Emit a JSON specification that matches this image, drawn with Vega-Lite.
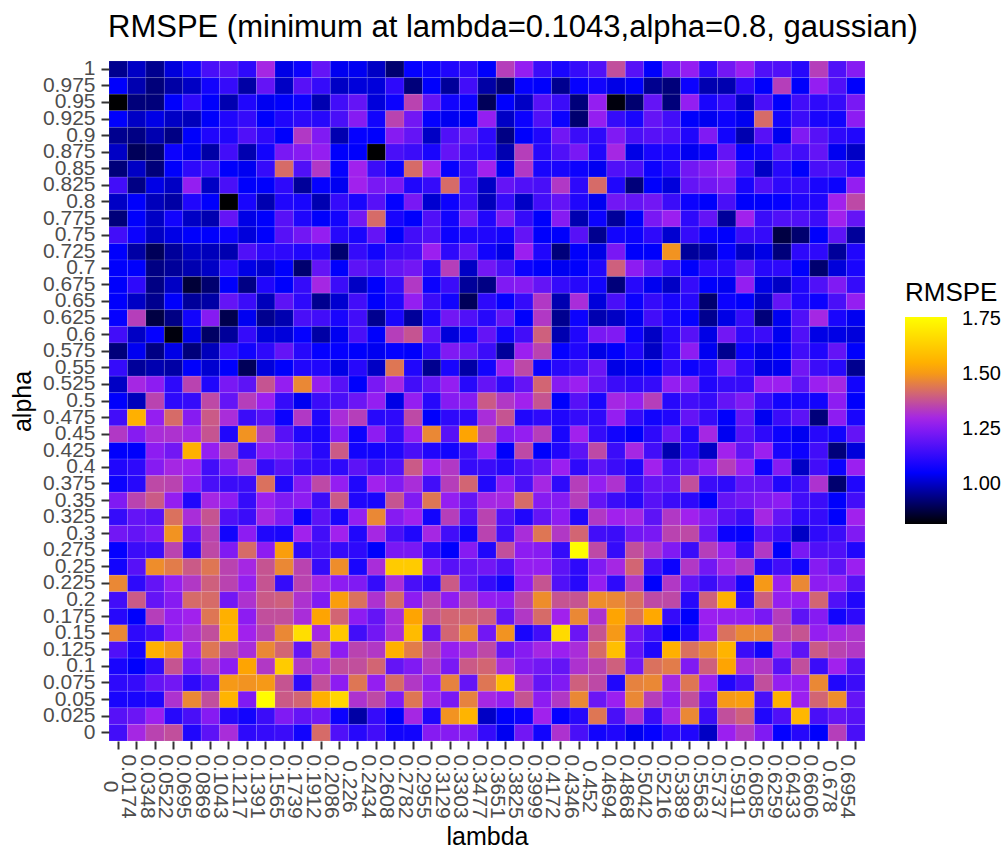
{"$schema":"https://vega.github.io/schema/vega-lite/v6.json","width":756,"height":680,"autosize":"none","padding":{"left":109,"top":61,"right":139,"bottom":104},"background":"white","title":{"text":"RMSPE (minimum at lambda=0.1043,alpha=0.8, gaussian)","anchor":"start","frame":"group","dx":-1,"fontSize":31,"fontWeight":"normal","font":"Liberation Sans","color":"black","offset":14},"config":{"view":{"stroke":null},"font":"Liberation Sans"},"data":{"values":[
{"l":0,"a":1,"r":0.95},{"l":0.0174,"a":1,"r":1.0},{"l":0.0348,"a":1,"r":0.95},{"l":0.0522,"a":1,"r":1.02},{"l":0.0695,"a":1,"r":1.08},{"l":0.0869,"a":1,"r":1.16},{"l":0.1043,"a":1,"r":1.18},{"l":0.1217,"a":1,"r":1.12},{"l":0.1391,"a":1,"r":1.3},{"l":0.1565,"a":1,"r":1.03},{"l":0.1739,"a":1,"r":1.07},{"l":0.1912,"a":1,"r":1.2},{"l":0.2086,"a":1,"r":1.04},{"l":0.226,"a":1,"r":1.04},{"l":0.2434,"a":1,"r":1.0},{"l":0.2608,"a":1,"r":0.92},{"l":0.2782,"a":1,"r":1.06},{"l":0.2955,"a":1,"r":1.07},{"l":0.3129,"a":1,"r":1.1},{"l":0.3303,"a":1,"r":1.12},{"l":0.3477,"a":1,"r":1.05},{"l":0.3651,"a":1,"r":1.34},{"l":0.3825,"a":1,"r":1.27},{"l":0.3999,"a":1,"r":1.14},{"l":0.4172,"a":1,"r":1.09},{"l":0.4346,"a":1,"r":1.13},{"l":0.452,"a":1,"r":1.17},{"l":0.4694,"a":1,"r":1.37},{"l":0.4868,"a":1,"r":1.18},{"l":0.5042,"a":1,"r":1.05},{"l":0.5216,"a":1,"r":1.22},{"l":0.5389,"a":1,"r":1.27},{"l":0.5563,"a":1,"r":1.12},{"l":0.5737,"a":1,"r":1.22},{"l":0.5911,"a":1,"r":1.28},{"l":0.6085,"a":1,"r":1.17},{"l":0.6259,"a":1,"r":1.17},{"l":0.6433,"a":1,"r":1.11},{"l":0.6606,"a":1,"r":1.34},{"l":0.678,"a":1,"r":1.17},{"l":0.6954,"a":1,"r":1.25},
{"l":0,"a":0.975,"r":1.05},{"l":0.0174,"a":0.975,"r":0.98},{"l":0.0348,"a":0.975,"r":0.93},{"l":0.0522,"a":0.975,"r":0.97},{"l":0.0695,"a":0.975,"r":1.0},{"l":0.0869,"a":0.975,"r":1.08},{"l":0.1043,"a":0.975,"r":1.13},{"l":0.1217,"a":0.975,"r":0.97},{"l":0.1391,"a":0.975,"r":1.2},{"l":0.1565,"a":0.975,"r":1.0},{"l":0.1739,"a":0.975,"r":1.18},{"l":0.1912,"a":0.975,"r":1.13},{"l":0.2086,"a":0.975,"r":1.0},{"l":0.226,"a":0.975,"r":1.02},{"l":0.2434,"a":0.975,"r":1.02},{"l":0.2608,"a":0.975,"r":1.12},{"l":0.2782,"a":0.975,"r":0.93},{"l":0.2955,"a":0.975,"r":1.05},{"l":0.3129,"a":0.975,"r":0.96},{"l":0.3303,"a":0.975,"r":1.15},{"l":0.3477,"a":0.975,"r":0.97},{"l":0.3651,"a":0.975,"r":0.92},{"l":0.3825,"a":0.975,"r":1.06},{"l":0.3999,"a":0.975,"r":1.05},{"l":0.4172,"a":0.975,"r":0.95},{"l":0.4346,"a":0.975,"r":1.06},{"l":0.452,"a":0.975,"r":1.08},{"l":0.4694,"a":0.975,"r":1.03},{"l":0.4868,"a":0.975,"r":1.05},{"l":0.5042,"a":0.975,"r":0.95},{"l":0.5216,"a":0.975,"r":0.93},{"l":0.5389,"a":0.975,"r":1.07},{"l":0.5563,"a":0.975,"r":0.98},{"l":0.5737,"a":0.975,"r":0.98},{"l":0.5911,"a":0.975,"r":1.12},{"l":0.6085,"a":0.975,"r":1.05},{"l":0.6259,"a":0.975,"r":1.34},{"l":0.6433,"a":0.975,"r":1.05},{"l":0.6606,"a":0.975,"r":1.27},{"l":0.678,"a":0.975,"r":1.17},{"l":0.6954,"a":0.975,"r":1.05},
{"l":0,"a":0.95,"r":0.82},{"l":0.0174,"a":0.95,"r":0.93},{"l":0.0348,"a":0.95,"r":0.93},{"l":0.0522,"a":0.95,"r":1.05},{"l":0.0695,"a":0.95,"r":1.12},{"l":0.0869,"a":0.95,"r":1.05},{"l":0.1043,"a":0.95,"r":0.98},{"l":0.1217,"a":0.95,"r":1.1},{"l":0.1391,"a":0.95,"r":1.04},{"l":0.1565,"a":0.95,"r":1.05},{"l":0.1739,"a":0.95,"r":1.07},{"l":0.1912,"a":0.95,"r":0.98},{"l":0.2086,"a":0.95,"r":1.15},{"l":0.226,"a":0.95,"r":1.2},{"l":0.2434,"a":0.95,"r":1.02},{"l":0.2608,"a":0.95,"r":1.07},{"l":0.2782,"a":0.95,"r":1.35},{"l":0.2955,"a":0.95,"r":1.2},{"l":0.3129,"a":0.95,"r":1.08},{"l":0.3303,"a":0.95,"r":1.07},{"l":0.3477,"a":0.95,"r":0.9},{"l":0.3651,"a":0.95,"r":1.05},{"l":0.3825,"a":0.95,"r":1.0},{"l":0.3999,"a":0.95,"r":1.18},{"l":0.4172,"a":0.95,"r":1.14},{"l":0.4346,"a":0.95,"r":0.93},{"l":0.452,"a":0.95,"r":1.27},{"l":0.4694,"a":0.95,"r":0.83},{"l":0.4868,"a":0.95,"r":0.92},{"l":0.5042,"a":0.95,"r":1.2},{"l":0.5216,"a":0.95,"r":0.93},{"l":0.5389,"a":0.95,"r":1.27},{"l":0.5563,"a":0.95,"r":1.09},{"l":0.5737,"a":0.95,"r":1.13},{"l":0.5911,"a":0.95,"r":1.0},{"l":0.6085,"a":0.95,"r":1.16},{"l":0.6259,"a":0.95,"r":1.05},{"l":0.6433,"a":0.95,"r":1.15},{"l":0.6606,"a":0.95,"r":1.12},{"l":0.678,"a":0.95,"r":1.13},{"l":0.6954,"a":0.95,"r":1.23},
{"l":0,"a":0.925,"r":1.05},{"l":0.0174,"a":0.925,"r":1.0},{"l":0.0348,"a":0.925,"r":1.03},{"l":0.0522,"a":0.925,"r":1.0},{"l":0.0695,"a":0.925,"r":0.99},{"l":0.0869,"a":0.925,"r":1.05},{"l":0.1043,"a":0.925,"r":1.1},{"l":0.1217,"a":0.925,"r":1.13},{"l":0.1391,"a":0.925,"r":1.05},{"l":0.1565,"a":0.925,"r":1.1},{"l":0.1739,"a":0.925,"r":1.12},{"l":0.1912,"a":0.925,"r":1.11},{"l":0.2086,"a":0.925,"r":1.16},{"l":0.226,"a":0.925,"r":1.25},{"l":0.2434,"a":0.925,"r":1.08},{"l":0.2608,"a":0.925,"r":1.35},{"l":0.2782,"a":0.925,"r":1.22},{"l":0.2955,"a":0.925,"r":1.06},{"l":0.3129,"a":0.925,"r":1.04},{"l":0.3303,"a":0.925,"r":1.05},{"l":0.3477,"a":0.925,"r":1.27},{"l":0.3651,"a":0.925,"r":1.0},{"l":0.3825,"a":0.925,"r":1.07},{"l":0.3999,"a":0.925,"r":1.17},{"l":0.4172,"a":0.925,"r":1.07},{"l":0.4346,"a":0.925,"r":0.92},{"l":0.452,"a":0.925,"r":1.27},{"l":0.4694,"a":0.925,"r":1.13},{"l":0.4868,"a":0.925,"r":1.09},{"l":0.5042,"a":0.925,"r":1.2},{"l":0.5216,"a":0.925,"r":1.15},{"l":0.5389,"a":0.925,"r":1.05},{"l":0.5563,"a":0.925,"r":1.04},{"l":0.5737,"a":0.925,"r":1.07},{"l":0.5911,"a":0.925,"r":1.04},{"l":0.6085,"a":0.925,"r":1.42},{"l":0.6259,"a":0.925,"r":1.08},{"l":0.6433,"a":0.925,"r":1.14},{"l":0.6606,"a":0.925,"r":1.09},{"l":0.678,"a":0.925,"r":1.08},{"l":0.6954,"a":0.925,"r":1.26},
{"l":0,"a":0.9,"r":0.95},{"l":0.0174,"a":0.9,"r":0.94},{"l":0.0348,"a":0.9,"r":0.98},{"l":0.0522,"a":0.9,"r":0.94},{"l":0.0695,"a":0.9,"r":1.05},{"l":0.0869,"a":0.9,"r":1.1},{"l":0.1043,"a":0.9,"r":1.1},{"l":0.1217,"a":0.9,"r":1.17},{"l":0.1391,"a":0.9,"r":1.12},{"l":0.1565,"a":0.9,"r":1.05},{"l":0.1739,"a":0.9,"r":1.33},{"l":0.1912,"a":0.9,"r":1.24},{"l":0.2086,"a":0.9,"r":0.98},{"l":0.226,"a":0.9,"r":1.06},{"l":0.2434,"a":0.9,"r":1.05},{"l":0.2608,"a":0.9,"r":1.25},{"l":0.2782,"a":0.9,"r":1.2},{"l":0.2955,"a":0.9,"r":1.0},{"l":0.3129,"a":0.9,"r":1.17},{"l":0.3303,"a":0.9,"r":1.2},{"l":0.3477,"a":0.9,"r":1.12},{"l":0.3651,"a":0.9,"r":0.94},{"l":0.3825,"a":0.9,"r":1.05},{"l":0.3999,"a":0.9,"r":1.1},{"l":0.4172,"a":0.9,"r":1.22},{"l":0.4346,"a":0.9,"r":1.14},{"l":0.452,"a":0.9,"r":1.12},{"l":0.4694,"a":0.9,"r":1.24},{"l":0.4868,"a":0.9,"r":1.16},{"l":0.5042,"a":0.9,"r":1.18},{"l":0.5216,"a":0.9,"r":1.17},{"l":0.5389,"a":0.9,"r":1.1},{"l":0.5563,"a":0.9,"r":1.24},{"l":0.5737,"a":0.9,"r":1.08},{"l":0.5911,"a":0.9,"r":0.98},{"l":0.6085,"a":0.9,"r":1.18},{"l":0.6259,"a":0.9,"r":1.04},{"l":0.6433,"a":0.9,"r":1.24},{"l":0.6606,"a":0.9,"r":1.18},{"l":0.678,"a":0.9,"r":1.12},{"l":0.6954,"a":0.9,"r":1.1},
{"l":0,"a":0.875,"r":1.0},{"l":0.0174,"a":0.875,"r":0.9},{"l":0.0348,"a":0.875,"r":0.92},{"l":0.0522,"a":0.875,"r":1.07},{"l":0.0695,"a":0.875,"r":1.04},{"l":0.0869,"a":0.875,"r":0.97},{"l":0.1043,"a":0.875,"r":1.15},{"l":0.1217,"a":0.875,"r":0.98},{"l":0.1391,"a":0.875,"r":1.08},{"l":0.1565,"a":0.875,"r":1.23},{"l":0.1739,"a":0.875,"r":1.25},{"l":0.1912,"a":0.875,"r":1.27},{"l":0.2086,"a":0.875,"r":1.05},{"l":0.226,"a":0.875,"r":1.05},{"l":0.2434,"a":0.875,"r":0.82},{"l":0.2608,"a":0.875,"r":1.16},{"l":0.2782,"a":0.875,"r":1.14},{"l":0.2955,"a":0.875,"r":1.09},{"l":0.3129,"a":0.875,"r":1.2},{"l":0.3303,"a":0.875,"r":1.15},{"l":0.3477,"a":0.875,"r":1.12},{"l":0.3651,"a":0.875,"r":0.98},{"l":0.3825,"a":0.875,"r":1.34},{"l":0.3999,"a":0.875,"r":1.11},{"l":0.4172,"a":0.875,"r":1.17},{"l":0.4346,"a":0.875,"r":1.23},{"l":0.452,"a":0.875,"r":1.1},{"l":0.4694,"a":0.875,"r":1.3},{"l":0.4868,"a":0.875,"r":1.03},{"l":0.5042,"a":0.875,"r":1.09},{"l":0.5216,"a":0.875,"r":1.09},{"l":0.5389,"a":0.875,"r":1.04},{"l":0.5563,"a":0.875,"r":1.07},{"l":0.5737,"a":0.875,"r":1.2},{"l":0.5911,"a":0.875,"r":1.06},{"l":0.6085,"a":0.875,"r":1.08},{"l":0.6259,"a":0.875,"r":1.17},{"l":0.6433,"a":0.875,"r":1.15},{"l":0.6606,"a":0.875,"r":1.2},{"l":0.678,"a":0.875,"r":1.04},{"l":0.6954,"a":0.875,"r":1.0},
{"l":0,"a":0.85,"r":0.93},{"l":0.0174,"a":0.85,"r":1.0},{"l":0.0348,"a":0.85,"r":0.93},{"l":0.0522,"a":0.85,"r":1.05},{"l":0.0695,"a":0.85,"r":1.12},{"l":0.0869,"a":0.85,"r":1.14},{"l":0.1043,"a":0.85,"r":1.05},{"l":0.1217,"a":0.85,"r":1.04},{"l":0.1391,"a":0.85,"r":1.13},{"l":0.1565,"a":0.85,"r":1.42},{"l":0.1739,"a":0.85,"r":1.17},{"l":0.1912,"a":0.85,"r":1.33},{"l":0.2086,"a":0.85,"r":1.06},{"l":0.226,"a":0.85,"r":1.29},{"l":0.2434,"a":0.85,"r":1.14},{"l":0.2608,"a":0.85,"r":1.07},{"l":0.2782,"a":0.85,"r":1.42},{"l":0.2955,"a":0.85,"r":1.29},{"l":0.3129,"a":0.85,"r":1.06},{"l":0.3303,"a":0.85,"r":1.15},{"l":0.3477,"a":0.85,"r":1.29},{"l":0.3651,"a":0.85,"r":1.04},{"l":0.3825,"a":0.85,"r":1.33},{"l":0.3999,"a":0.85,"r":1.09},{"l":0.4172,"a":0.85,"r":1.09},{"l":0.4346,"a":0.85,"r":1.07},{"l":0.452,"a":0.85,"r":1.04},{"l":0.4694,"a":0.85,"r":1.17},{"l":0.4868,"a":0.85,"r":1.16},{"l":0.5042,"a":0.85,"r":1.07},{"l":0.5216,"a":0.85,"r":1.11},{"l":0.5389,"a":0.85,"r":1.22},{"l":0.5563,"a":0.85,"r":1.25},{"l":0.5737,"a":0.85,"r":1.28},{"l":0.5911,"a":0.85,"r":1.15},{"l":0.6085,"a":0.85,"r":1.0},{"l":0.6259,"a":0.85,"r":1.11},{"l":0.6433,"a":0.85,"r":1.05},{"l":0.6606,"a":0.85,"r":1.16},{"l":0.678,"a":0.85,"r":1.16},{"l":0.6954,"a":0.85,"r":1.1},
{"l":0,"a":0.825,"r":1.15},{"l":0.0174,"a":0.825,"r":0.94},{"l":0.0348,"a":0.825,"r":1.03},{"l":0.0522,"a":0.825,"r":1.0},{"l":0.0695,"a":0.825,"r":1.27},{"l":0.0869,"a":0.825,"r":1.0},{"l":0.1043,"a":0.825,"r":1.16},{"l":0.1217,"a":0.825,"r":1.05},{"l":0.1391,"a":0.825,"r":1.05},{"l":0.1565,"a":0.825,"r":1.12},{"l":0.1739,"a":0.825,"r":0.96},{"l":0.1912,"a":0.825,"r":1.06},{"l":0.2086,"a":0.825,"r":1.04},{"l":0.226,"a":0.825,"r":1.29},{"l":0.2434,"a":0.825,"r":1.23},{"l":0.2608,"a":0.825,"r":1.23},{"l":0.2782,"a":0.825,"r":1.1},{"l":0.2955,"a":0.825,"r":1.13},{"l":0.3129,"a":0.825,"r":1.42},{"l":0.3303,"a":0.825,"r":1.15},{"l":0.3477,"a":0.825,"r":1.0},{"l":0.3651,"a":0.825,"r":1.2},{"l":0.3825,"a":0.825,"r":1.17},{"l":0.3999,"a":0.825,"r":1.16},{"l":0.4172,"a":0.825,"r":1.33},{"l":0.4346,"a":0.825,"r":1.12},{"l":0.452,"a":0.825,"r":1.42},{"l":0.4694,"a":0.825,"r":1.1},{"l":0.4868,"a":0.825,"r":0.93},{"l":0.5042,"a":0.825,"r":1.05},{"l":0.5216,"a":0.825,"r":1.02},{"l":0.5389,"a":0.825,"r":1.2},{"l":0.5563,"a":0.825,"r":1.22},{"l":0.5737,"a":0.825,"r":1.24},{"l":0.5911,"a":0.825,"r":1.09},{"l":0.6085,"a":0.825,"r":1.17},{"l":0.6259,"a":0.825,"r":1.12},{"l":0.6433,"a":0.825,"r":1.13},{"l":0.6606,"a":0.825,"r":1.09},{"l":0.678,"a":0.825,"r":1.07},{"l":0.6954,"a":0.825,"r":1.27},
{"l":0,"a":0.8,"r":1.0},{"l":0.0174,"a":0.8,"r":1.05},{"l":0.0348,"a":0.8,"r":0.99},{"l":0.0522,"a":0.8,"r":0.97},{"l":0.0695,"a":0.8,"r":1.1},{"l":0.0869,"a":0.8,"r":1.05},{"l":0.1043,"a":0.8,"r":0.82},{"l":0.1217,"a":0.8,"r":1.09},{"l":0.1391,"a":0.8,"r":0.98},{"l":0.1565,"a":0.8,"r":1.1},{"l":0.1739,"a":0.8,"r":1.09},{"l":0.1912,"a":0.8,"r":0.98},{"l":0.2086,"a":0.8,"r":1.13},{"l":0.226,"a":0.8,"r":1.09},{"l":0.2434,"a":0.8,"r":1.18},{"l":0.2608,"a":0.8,"r":1.06},{"l":0.2782,"a":0.8,"r":1.23},{"l":0.2955,"a":0.8,"r":1.01},{"l":0.3129,"a":0.8,"r":1.07},{"l":0.3303,"a":0.8,"r":1.14},{"l":0.3477,"a":0.8,"r":0.99},{"l":0.3651,"a":0.8,"r":1.13},{"l":0.3825,"a":0.8,"r":1.0},{"l":0.3999,"a":0.8,"r":1.15},{"l":0.4172,"a":0.8,"r":1.2},{"l":0.4346,"a":0.8,"r":1.1},{"l":0.452,"a":0.8,"r":1.04},{"l":0.4694,"a":0.8,"r":1.22},{"l":0.4868,"a":0.8,"r":1.2},{"l":0.5042,"a":0.8,"r":1.22},{"l":0.5216,"a":0.8,"r":1.14},{"l":0.5389,"a":0.8,"r":1.07},{"l":0.5563,"a":0.8,"r":1.05},{"l":0.5737,"a":0.8,"r":1.16},{"l":0.5911,"a":0.8,"r":1.05},{"l":0.6085,"a":0.8,"r":1.05},{"l":0.6259,"a":0.8,"r":1.06},{"l":0.6433,"a":0.8,"r":1.1},{"l":0.6606,"a":0.8,"r":1.1},{"l":0.678,"a":0.8,"r":1.29},{"l":0.6954,"a":0.8,"r":1.36},
{"l":0,"a":0.775,"r":0.93},{"l":0.0174,"a":0.775,"r":1.05},{"l":0.0348,"a":0.775,"r":1.0},{"l":0.0522,"a":0.775,"r":1.08},{"l":0.0695,"a":0.775,"r":1.0},{"l":0.0869,"a":0.775,"r":0.98},{"l":0.1043,"a":0.775,"r":1.2},{"l":0.1217,"a":0.775,"r":1.03},{"l":0.1391,"a":0.775,"r":1.05},{"l":0.1565,"a":0.775,"r":1.18},{"l":0.1739,"a":0.775,"r":1.1},{"l":0.1912,"a":0.775,"r":1.05},{"l":0.2086,"a":0.775,"r":1.08},{"l":0.226,"a":0.775,"r":1.22},{"l":0.2434,"a":0.775,"r":1.42},{"l":0.2608,"a":0.775,"r":1.09},{"l":0.2782,"a":0.775,"r":1.05},{"l":0.2955,"a":0.775,"r":1.17},{"l":0.3129,"a":0.775,"r":1.08},{"l":0.3303,"a":0.775,"r":1.22},{"l":0.3477,"a":0.775,"r":1.1},{"l":0.3651,"a":0.775,"r":1.24},{"l":0.3825,"a":0.775,"r":1.13},{"l":0.3999,"a":0.775,"r":1.05},{"l":0.4172,"a":0.775,"r":1.25},{"l":0.4346,"a":0.775,"r":0.98},{"l":0.452,"a":0.775,"r":1.07},{"l":0.4694,"a":0.775,"r":0.96},{"l":0.4868,"a":0.775,"r":1.05},{"l":0.5042,"a":0.775,"r":1.23},{"l":0.5216,"a":0.775,"r":1.28},{"l":0.5389,"a":0.775,"r":1.12},{"l":0.5563,"a":0.775,"r":1.2},{"l":0.5737,"a":0.775,"r":0.96},{"l":0.5911,"a":0.775,"r":1.29},{"l":0.6085,"a":0.775,"r":1.14},{"l":0.6259,"a":0.775,"r":1.17},{"l":0.6433,"a":0.775,"r":1.17},{"l":0.6606,"a":0.775,"r":1.14},{"l":0.678,"a":0.775,"r":1.29},{"l":0.6954,"a":0.775,"r":1.2},
{"l":0,"a":0.75,"r":1.15},{"l":0.0174,"a":0.75,"r":1.07},{"l":0.0348,"a":0.75,"r":1.0},{"l":0.0522,"a":0.75,"r":1.03},{"l":0.0695,"a":0.75,"r":1.05},{"l":0.0869,"a":0.75,"r":1.05},{"l":0.1043,"a":0.75,"r":1.07},{"l":0.1217,"a":0.75,"r":1.02},{"l":0.1391,"a":0.75,"r":1.05},{"l":0.1565,"a":0.75,"r":1.18},{"l":0.1739,"a":0.75,"r":1.22},{"l":0.1912,"a":0.75,"r":1.27},{"l":0.2086,"a":0.75,"r":1.11},{"l":0.226,"a":0.75,"r":1.09},{"l":0.2434,"a":0.75,"r":1.2},{"l":0.2608,"a":0.75,"r":1.05},{"l":0.2782,"a":0.75,"r":1.15},{"l":0.2955,"a":0.75,"r":1.17},{"l":0.3129,"a":0.75,"r":1.07},{"l":0.3303,"a":0.75,"r":1.1},{"l":0.3477,"a":0.75,"r":1.1},{"l":0.3651,"a":0.75,"r":1.08},{"l":0.3825,"a":0.75,"r":1.2},{"l":0.3999,"a":0.75,"r":1.05},{"l":0.4172,"a":0.75,"r":1.05},{"l":0.4346,"a":0.75,"r":1.18},{"l":0.452,"a":0.75,"r":0.95},{"l":0.4694,"a":0.75,"r":1.08},{"l":0.4868,"a":0.75,"r":1.07},{"l":0.5042,"a":0.75,"r":1.12},{"l":0.5216,"a":0.75,"r":1.01},{"l":0.5389,"a":0.75,"r":1.13},{"l":0.5563,"a":0.75,"r":1.07},{"l":0.5737,"a":0.75,"r":1.05},{"l":0.5911,"a":0.75,"r":1.14},{"l":0.6085,"a":0.75,"r":1.13},{"l":0.6259,"a":0.75,"r":0.88},{"l":0.6433,"a":0.75,"r":0.92},{"l":0.6606,"a":0.75,"r":1.05},{"l":0.678,"a":0.75,"r":1.19},{"l":0.6954,"a":0.75,"r":0.96},
{"l":0,"a":0.725,"r":1.05},{"l":0.0174,"a":0.725,"r":0.97},{"l":0.0348,"a":0.725,"r":0.9},{"l":0.0522,"a":0.725,"r":0.96},{"l":0.0695,"a":0.725,"r":1.0},{"l":0.0869,"a":0.725,"r":0.99},{"l":0.1043,"a":0.725,"r":0.98},{"l":0.1217,"a":0.725,"r":1.17},{"l":0.1391,"a":0.725,"r":1.12},{"l":0.1565,"a":0.725,"r":1.12},{"l":0.1739,"a":0.725,"r":1.1},{"l":0.1912,"a":0.725,"r":1.11},{"l":0.2086,"a":0.725,"r":0.92},{"l":0.226,"a":0.725,"r":1.13},{"l":0.2434,"a":0.725,"r":1.08},{"l":0.2608,"a":0.725,"r":1.14},{"l":0.2782,"a":0.725,"r":1.15},{"l":0.2955,"a":0.725,"r":1.28},{"l":0.3129,"a":0.725,"r":1.12},{"l":0.3303,"a":0.725,"r":1.2},{"l":0.3477,"a":0.725,"r":1.08},{"l":0.3651,"a":0.725,"r":1.03},{"l":0.3825,"a":0.725,"r":1.28},{"l":0.3999,"a":0.725,"r":1.1},{"l":0.4172,"a":0.725,"r":0.93},{"l":0.4346,"a":0.725,"r":1.05},{"l":0.452,"a":0.725,"r":1.03},{"l":0.4694,"a":0.725,"r":1.23},{"l":0.4868,"a":0.725,"r":1.05},{"l":0.5042,"a":0.725,"r":1.05},{"l":0.5216,"a":0.725,"r":1.49},{"l":0.5389,"a":0.725,"r":0.96},{"l":0.5563,"a":0.725,"r":0.98},{"l":0.5737,"a":0.725,"r":1.06},{"l":0.5911,"a":0.725,"r":1.0},{"l":0.6085,"a":0.725,"r":1.03},{"l":0.6259,"a":0.725,"r":0.93},{"l":0.6433,"a":0.725,"r":1.12},{"l":0.6606,"a":0.725,"r":1.12},{"l":0.678,"a":0.725,"r":0.96},{"l":0.6954,"a":0.725,"r":1.1},
{"l":0,"a":0.7,"r":1.05},{"l":0.0174,"a":0.7,"r":1.05},{"l":0.0348,"a":0.7,"r":0.94},{"l":0.0522,"a":0.7,"r":0.96},{"l":0.0695,"a":0.7,"r":0.98},{"l":0.0869,"a":0.7,"r":1.0},{"l":0.1043,"a":0.7,"r":1.11},{"l":0.1217,"a":0.7,"r":1.03},{"l":0.1391,"a":0.7,"r":1.01},{"l":0.1565,"a":0.7,"r":1.05},{"l":0.1739,"a":0.7,"r":0.92},{"l":0.1912,"a":0.7,"r":1.2},{"l":0.2086,"a":0.7,"r":1.05},{"l":0.226,"a":0.7,"r":1.19},{"l":0.2434,"a":0.7,"r":1.16},{"l":0.2608,"a":0.7,"r":1.2},{"l":0.2782,"a":0.7,"r":1.22},{"l":0.2955,"a":0.7,"r":1.12},{"l":0.3129,"a":0.7,"r":1.34},{"l":0.3303,"a":0.7,"r":1.0},{"l":0.3477,"a":0.7,"r":1.22},{"l":0.3651,"a":0.7,"r":1.16},{"l":0.3825,"a":0.7,"r":1.07},{"l":0.3999,"a":0.7,"r":1.05},{"l":0.4172,"a":0.7,"r":1.04},{"l":0.4346,"a":0.7,"r":1.05},{"l":0.452,"a":0.7,"r":1.1},{"l":0.4694,"a":0.7,"r":1.4},{"l":0.4868,"a":0.7,"r":1.26},{"l":0.5042,"a":0.7,"r":1.2},{"l":0.5216,"a":0.7,"r":1.13},{"l":0.5389,"a":0.7,"r":1.05},{"l":0.5563,"a":0.7,"r":1.12},{"l":0.5737,"a":0.7,"r":1.11},{"l":0.5911,"a":0.7,"r":1.19},{"l":0.6085,"a":0.7,"r":1.11},{"l":0.6259,"a":0.7,"r":1.12},{"l":0.6433,"a":0.7,"r":1.05},{"l":0.6606,"a":0.7,"r":0.92},{"l":0.678,"a":0.7,"r":1.02},{"l":0.6954,"a":0.7,"r":1.09},
{"l":0,"a":0.675,"r":1.05},{"l":0.0174,"a":0.675,"r":1.12},{"l":0.0348,"a":0.675,"r":0.94},{"l":0.0522,"a":0.675,"r":1.0},{"l":0.0695,"a":0.675,"r":0.87},{"l":0.0869,"a":0.675,"r":0.92},{"l":0.1043,"a":0.675,"r":1.05},{"l":0.1217,"a":0.675,"r":0.94},{"l":0.1391,"a":0.675,"r":1.1},{"l":0.1565,"a":0.675,"r":1.05},{"l":0.1739,"a":0.675,"r":1.13},{"l":0.1912,"a":0.675,"r":1.3},{"l":0.2086,"a":0.675,"r":1.14},{"l":0.226,"a":0.675,"r":1.0},{"l":0.2434,"a":0.675,"r":1.05},{"l":0.2608,"a":0.675,"r":1.13},{"l":0.2782,"a":0.675,"r":1.33},{"l":0.2955,"a":0.675,"r":1.07},{"l":0.3129,"a":0.675,"r":1.14},{"l":0.3303,"a":0.675,"r":0.96},{"l":0.3477,"a":0.675,"r":0.94},{"l":0.3651,"a":0.675,"r":1.24},{"l":0.3825,"a":0.675,"r":1.25},{"l":0.3999,"a":0.675,"r":1.2},{"l":0.4172,"a":0.675,"r":1.13},{"l":0.4346,"a":0.675,"r":1.11},{"l":0.452,"a":0.675,"r":1.08},{"l":0.4694,"a":0.675,"r":0.93},{"l":0.4868,"a":0.675,"r":1.11},{"l":0.5042,"a":0.675,"r":1.04},{"l":0.5216,"a":0.675,"r":1.0},{"l":0.5389,"a":0.675,"r":1.13},{"l":0.5563,"a":0.675,"r":1.05},{"l":0.5737,"a":0.675,"r":1.04},{"l":0.5911,"a":0.675,"r":1.27},{"l":0.6085,"a":0.675,"r":1.03},{"l":0.6259,"a":0.675,"r":1.0},{"l":0.6433,"a":0.675,"r":1.1},{"l":0.6606,"a":0.675,"r":1.17},{"l":0.678,"a":0.675,"r":1.24},{"l":0.6954,"a":0.675,"r":1.13},
{"l":0,"a":0.65,"r":1.05},{"l":0.0174,"a":0.65,"r":1.0},{"l":0.0348,"a":0.65,"r":0.95},{"l":0.0522,"a":0.65,"r":1.05},{"l":0.0695,"a":0.65,"r":0.96},{"l":0.0869,"a":0.65,"r":0.97},{"l":0.1043,"a":0.65,"r":1.2},{"l":0.1217,"a":0.65,"r":1.14},{"l":0.1391,"a":0.65,"r":0.99},{"l":0.1565,"a":0.65,"r":1.19},{"l":0.1739,"a":0.65,"r":1.12},{"l":0.1912,"a":0.65,"r":0.95},{"l":0.2086,"a":0.65,"r":1.01},{"l":0.226,"a":0.65,"r":1.15},{"l":0.2434,"a":0.65,"r":1.05},{"l":0.2608,"a":0.65,"r":1.1},{"l":0.2782,"a":0.65,"r":1.27},{"l":0.2955,"a":0.65,"r":1.14},{"l":0.3129,"a":0.65,"r":1.08},{"l":0.3303,"a":0.65,"r":0.9},{"l":0.3477,"a":0.65,"r":1.12},{"l":0.3651,"a":0.65,"r":1.06},{"l":0.3825,"a":0.65,"r":1.13},{"l":0.3999,"a":0.65,"r":1.33},{"l":0.4172,"a":0.65,"r":0.98},{"l":0.4346,"a":0.65,"r":1.31},{"l":0.452,"a":0.65,"r":1.02},{"l":0.4694,"a":0.65,"r":1.16},{"l":0.4868,"a":0.65,"r":1.07},{"l":0.5042,"a":0.65,"r":1.13},{"l":0.5216,"a":0.65,"r":1.09},{"l":0.5389,"a":0.65,"r":1.11},{"l":0.5563,"a":0.65,"r":0.92},{"l":0.5737,"a":0.65,"r":1.07},{"l":0.5911,"a":0.65,"r":1.05},{"l":0.6085,"a":0.65,"r":1.0},{"l":0.6259,"a":0.65,"r":1.2},{"l":0.6433,"a":0.65,"r":1.1},{"l":0.6606,"a":0.65,"r":1.07},{"l":0.678,"a":0.65,"r":1.16},{"l":0.6954,"a":0.65,"r":1.27},
{"l":0,"a":0.625,"r":1.06},{"l":0.0174,"a":0.625,"r":1.34},{"l":0.0348,"a":0.625,"r":0.88},{"l":0.0522,"a":0.625,"r":0.94},{"l":0.0695,"a":0.625,"r":1.08},{"l":0.0869,"a":0.625,"r":1.25},{"l":0.1043,"a":0.625,"r":0.89},{"l":0.1217,"a":0.625,"r":1.04},{"l":0.1391,"a":0.625,"r":0.95},{"l":0.1565,"a":0.625,"r":0.98},{"l":0.1739,"a":0.625,"r":1.16},{"l":0.1912,"a":0.625,"r":1.15},{"l":0.2086,"a":0.625,"r":1.09},{"l":0.226,"a":0.625,"r":1.15},{"l":0.2434,"a":0.625,"r":0.95},{"l":0.2608,"a":0.625,"r":1.09},{"l":0.2782,"a":0.625,"r":0.96},{"l":0.2955,"a":0.625,"r":1.09},{"l":0.3129,"a":0.625,"r":1.22},{"l":0.3303,"a":0.625,"r":1.17},{"l":0.3477,"a":0.625,"r":1.11},{"l":0.3651,"a":0.625,"r":1.2},{"l":0.3825,"a":0.625,"r":1.05},{"l":0.3999,"a":0.625,"r":1.33},{"l":0.4172,"a":0.625,"r":0.95},{"l":0.4346,"a":0.625,"r":1.07},{"l":0.452,"a":0.625,"r":0.98},{"l":0.4694,"a":0.625,"r":1.0},{"l":0.4868,"a":0.625,"r":1.04},{"l":0.5042,"a":0.625,"r":1.15},{"l":0.5216,"a":0.625,"r":1.09},{"l":0.5389,"a":0.625,"r":1.06},{"l":0.5563,"a":0.625,"r":0.95},{"l":0.5737,"a":0.625,"r":1.03},{"l":0.5911,"a":0.625,"r":1.13},{"l":0.6085,"a":0.625,"r":0.93},{"l":0.6259,"a":0.625,"r":1.04},{"l":0.6433,"a":0.625,"r":1.17},{"l":0.6606,"a":0.625,"r":1.3},{"l":0.678,"a":0.625,"r":1.09},{"l":0.6954,"a":0.625,"r":1.04},
{"l":0,"a":0.6,"r":1.15},{"l":0.0174,"a":0.6,"r":1.0},{"l":0.0348,"a":0.6,"r":1.06},{"l":0.0522,"a":0.6,"r":0.83},{"l":0.0695,"a":0.6,"r":1.03},{"l":0.0869,"a":0.6,"r":0.91},{"l":0.1043,"a":0.6,"r":0.96},{"l":0.1217,"a":0.6,"r":1.13},{"l":0.1391,"a":0.6,"r":1.02},{"l":0.1565,"a":0.6,"r":1.02},{"l":0.1739,"a":0.6,"r":1.06},{"l":0.1912,"a":0.6,"r":0.97},{"l":0.2086,"a":0.6,"r":1.04},{"l":0.226,"a":0.6,"r":1.16},{"l":0.2434,"a":0.6,"r":1.05},{"l":0.2608,"a":0.6,"r":1.34},{"l":0.2782,"a":0.6,"r":1.38},{"l":0.2955,"a":0.6,"r":1.2},{"l":0.3129,"a":0.6,"r":1.02},{"l":0.3303,"a":0.6,"r":1.08},{"l":0.3477,"a":0.6,"r":1.2},{"l":0.3651,"a":0.6,"r":1.08},{"l":0.3825,"a":0.6,"r":1.15},{"l":0.3999,"a":0.6,"r":1.4},{"l":0.4172,"a":0.6,"r":0.98},{"l":0.4346,"a":0.6,"r":1.1},{"l":0.452,"a":0.6,"r":1.23},{"l":0.4694,"a":0.6,"r":1.24},{"l":0.4868,"a":0.6,"r":1.07},{"l":0.5042,"a":0.6,"r":1.0},{"l":0.5216,"a":0.6,"r":1.11},{"l":0.5389,"a":0.6,"r":1.18},{"l":0.5563,"a":0.6,"r":1.03},{"l":0.5737,"a":0.6,"r":1.22},{"l":0.5911,"a":0.6,"r":1.12},{"l":0.6085,"a":0.6,"r":1.14},{"l":0.6259,"a":0.6,"r":1.04},{"l":0.6433,"a":0.6,"r":1.17},{"l":0.6606,"a":0.6,"r":1.03},{"l":0.678,"a":0.6,"r":1.03},{"l":0.6954,"a":0.6,"r":1.02},
{"l":0,"a":0.575,"r":0.93},{"l":0.0174,"a":0.575,"r":1.04},{"l":0.0348,"a":0.575,"r":0.94},{"l":0.0522,"a":0.575,"r":1.03},{"l":0.0695,"a":0.575,"r":0.93},{"l":0.0869,"a":0.575,"r":0.99},{"l":0.1043,"a":0.575,"r":1.13},{"l":0.1217,"a":0.575,"r":1.08},{"l":0.1391,"a":0.575,"r":1.12},{"l":0.1565,"a":0.575,"r":1.2},{"l":0.1739,"a":0.575,"r":1.11},{"l":0.1912,"a":0.575,"r":1.06},{"l":0.2086,"a":0.575,"r":1.06},{"l":0.226,"a":0.575,"r":1.05},{"l":0.2434,"a":0.575,"r":1.04},{"l":0.2608,"a":0.575,"r":1.06},{"l":0.2782,"a":0.575,"r":1.05},{"l":0.2955,"a":0.575,"r":1.12},{"l":0.3129,"a":0.575,"r":1.24},{"l":0.3303,"a":0.575,"r":1.2},{"l":0.3477,"a":0.575,"r":1.14},{"l":0.3651,"a":0.575,"r":0.96},{"l":0.3825,"a":0.575,"r":1.28},{"l":0.3999,"a":0.575,"r":1.35},{"l":0.4172,"a":0.575,"r":1.06},{"l":0.4346,"a":0.575,"r":1.1},{"l":0.452,"a":0.575,"r":1.03},{"l":0.4694,"a":0.575,"r":1.05},{"l":0.4868,"a":0.575,"r":1.1},{"l":0.5042,"a":0.575,"r":1.0},{"l":0.5216,"a":0.575,"r":1.11},{"l":0.5389,"a":0.575,"r":1.26},{"l":0.5563,"a":0.575,"r":1.04},{"l":0.5737,"a":0.575,"r":0.95},{"l":0.5911,"a":0.575,"r":1.07},{"l":0.6085,"a":0.575,"r":1.03},{"l":0.6259,"a":0.575,"r":1.05},{"l":0.6433,"a":0.575,"r":1.15},{"l":0.6606,"a":0.575,"r":1.1},{"l":0.678,"a":0.575,"r":1.2},{"l":0.6954,"a":0.575,"r":1.05},
{"l":0,"a":0.55,"r":1.13},{"l":0.0174,"a":0.55,"r":0.96},{"l":0.0348,"a":0.55,"r":0.98},{"l":0.0522,"a":0.55,"r":0.97},{"l":0.0695,"a":0.55,"r":1.05},{"l":0.0869,"a":0.55,"r":1.01},{"l":0.1043,"a":0.55,"r":1.05},{"l":0.1217,"a":0.55,"r":0.9},{"l":0.1391,"a":0.55,"r":1.02},{"l":0.1565,"a":0.55,"r":1.05},{"l":0.1739,"a":0.55,"r":1.1},{"l":0.1912,"a":0.55,"r":1.1},{"l":0.2086,"a":0.55,"r":1.03},{"l":0.226,"a":0.55,"r":1.11},{"l":0.2434,"a":0.55,"r":1.0},{"l":0.2608,"a":0.55,"r":1.44},{"l":0.2782,"a":0.55,"r":1.1},{"l":0.2955,"a":0.55,"r":0.95},{"l":0.3129,"a":0.55,"r":1.09},{"l":0.3303,"a":0.55,"r":0.97},{"l":0.3477,"a":0.55,"r":1.08},{"l":0.3651,"a":0.55,"r":1.28},{"l":0.3825,"a":0.55,"r":1.36},{"l":0.3999,"a":0.55,"r":1.07},{"l":0.4172,"a":0.55,"r":1.11},{"l":0.4346,"a":0.55,"r":1.14},{"l":0.452,"a":0.55,"r":1.21},{"l":0.4694,"a":0.55,"r":1.03},{"l":0.4868,"a":0.55,"r":1.04},{"l":0.5042,"a":0.55,"r":1.05},{"l":0.5216,"a":0.55,"r":1.13},{"l":0.5389,"a":0.55,"r":1.07},{"l":0.5563,"a":0.55,"r":1.1},{"l":0.5737,"a":0.55,"r":1.23},{"l":0.5911,"a":0.55,"r":1.12},{"l":0.6085,"a":0.55,"r":1.03},{"l":0.6259,"a":0.55,"r":1.04},{"l":0.6433,"a":0.55,"r":1.22},{"l":0.6606,"a":0.55,"r":1.14},{"l":0.678,"a":0.55,"r":1.11},{"l":0.6954,"a":0.55,"r":0.95},
{"l":0,"a":0.525,"r":1.0},{"l":0.0174,"a":0.525,"r":1.3},{"l":0.0348,"a":0.525,"r":1.26},{"l":0.0522,"a":0.525,"r":1.12},{"l":0.0695,"a":0.525,"r":1.35},{"l":0.0869,"a":0.525,"r":1.1},{"l":0.1043,"a":0.525,"r":1.23},{"l":0.1217,"a":0.525,"r":1.19},{"l":0.1391,"a":0.525,"r":1.38},{"l":0.1565,"a":0.525,"r":1.27},{"l":0.1739,"a":0.525,"r":1.47},{"l":0.1912,"a":0.525,"r":1.27},{"l":0.2086,"a":0.525,"r":1.18},{"l":0.226,"a":0.525,"r":1.05},{"l":0.2434,"a":0.525,"r":1.23},{"l":0.2608,"a":0.525,"r":1.3},{"l":0.2782,"a":0.525,"r":1.15},{"l":0.2955,"a":0.525,"r":1.2},{"l":0.3129,"a":0.525,"r":1.27},{"l":0.3303,"a":0.525,"r":1.11},{"l":0.3477,"a":0.525,"r":1.2},{"l":0.3651,"a":0.525,"r":1.12},{"l":0.3825,"a":0.525,"r":1.2},{"l":0.3999,"a":0.525,"r":1.41},{"l":0.4172,"a":0.525,"r":1.25},{"l":0.4346,"a":0.525,"r":1.28},{"l":0.452,"a":0.525,"r":1.2},{"l":0.4694,"a":0.525,"r":1.14},{"l":0.4868,"a":0.525,"r":1.12},{"l":0.5042,"a":0.525,"r":1.13},{"l":0.5216,"a":0.525,"r":1.27},{"l":0.5389,"a":0.525,"r":1.25},{"l":0.5563,"a":0.525,"r":1.1},{"l":0.5737,"a":0.525,"r":1.13},{"l":0.5911,"a":0.525,"r":1.13},{"l":0.6085,"a":0.525,"r":1.28},{"l":0.6259,"a":0.525,"r":1.28},{"l":0.6433,"a":0.525,"r":1.19},{"l":0.6606,"a":0.525,"r":1.28},{"l":0.678,"a":0.525,"r":1.3},{"l":0.6954,"a":0.525,"r":1.08},
{"l":0,"a":0.5,"r":1.05},{"l":0.0174,"a":0.5,"r":0.99},{"l":0.0348,"a":0.5,"r":1.35},{"l":0.0522,"a":0.5,"r":1.12},{"l":0.0695,"a":0.5,"r":1.13},{"l":0.0869,"a":0.5,"r":1.36},{"l":0.1043,"a":0.5,"r":1.2},{"l":0.1217,"a":0.5,"r":1.34},{"l":0.1391,"a":0.5,"r":1.28},{"l":0.1565,"a":0.5,"r":1.13},{"l":0.1739,"a":0.5,"r":1.04},{"l":0.1912,"a":0.5,"r":1.14},{"l":0.2086,"a":0.5,"r":1.16},{"l":0.226,"a":0.5,"r":1.21},{"l":0.2434,"a":0.5,"r":1.27},{"l":0.2608,"a":0.5,"r":1.03},{"l":0.2782,"a":0.5,"r":1.27},{"l":0.2955,"a":0.5,"r":1.11},{"l":0.3129,"a":0.5,"r":1.25},{"l":0.3303,"a":0.5,"r":1.25},{"l":0.3477,"a":0.5,"r":1.39},{"l":0.3651,"a":0.5,"r":1.33},{"l":0.3825,"a":0.5,"r":1.29},{"l":0.3999,"a":0.5,"r":1.38},{"l":0.4172,"a":0.5,"r":1.05},{"l":0.4346,"a":0.5,"r":1.18},{"l":0.452,"a":0.5,"r":1.09},{"l":0.4694,"a":0.5,"r":1.3},{"l":0.4868,"a":0.5,"r":1.27},{"l":0.5042,"a":0.5,"r":1.34},{"l":0.5216,"a":0.5,"r":1.11},{"l":0.5389,"a":0.5,"r":1.15},{"l":0.5563,"a":0.5,"r":1.13},{"l":0.5737,"a":0.5,"r":1.2},{"l":0.5911,"a":0.5,"r":1.24},{"l":0.6085,"a":0.5,"r":1.14},{"l":0.6259,"a":0.5,"r":1.08},{"l":0.6433,"a":0.5,"r":1.09},{"l":0.6606,"a":0.5,"r":1.08},{"l":0.678,"a":0.5,"r":1.26},{"l":0.6954,"a":0.5,"r":1.05},
{"l":0,"a":0.475,"r":1.15},{"l":0.0174,"a":0.475,"r":1.55},{"l":0.0348,"a":0.475,"r":1.27},{"l":0.0522,"a":0.475,"r":1.42},{"l":0.0695,"a":0.475,"r":1.25},{"l":0.0869,"a":0.475,"r":1.39},{"l":0.1043,"a":0.475,"r":1.31},{"l":0.1217,"a":0.475,"r":1.14},{"l":0.1391,"a":0.475,"r":1.18},{"l":0.1565,"a":0.475,"r":1.07},{"l":0.1739,"a":0.475,"r":1.33},{"l":0.1912,"a":0.475,"r":1.1},{"l":0.2086,"a":0.475,"r":1.31},{"l":0.226,"a":0.475,"r":1.34},{"l":0.2434,"a":0.475,"r":1.11},{"l":0.2608,"a":0.475,"r":1.12},{"l":0.2782,"a":0.475,"r":1.36},{"l":0.2955,"a":0.475,"r":1.05},{"l":0.3129,"a":0.475,"r":1.12},{"l":0.3303,"a":0.475,"r":1.12},{"l":0.3477,"a":0.475,"r":1.31},{"l":0.3651,"a":0.475,"r":1.38},{"l":0.3825,"a":0.475,"r":1.1},{"l":0.3999,"a":0.475,"r":1.12},{"l":0.4172,"a":0.475,"r":1.1},{"l":0.4346,"a":0.475,"r":1.13},{"l":0.452,"a":0.475,"r":1.12},{"l":0.4694,"a":0.475,"r":1.27},{"l":0.4868,"a":0.475,"r":1.13},{"l":0.5042,"a":0.475,"r":1.08},{"l":0.5216,"a":0.475,"r":1.1},{"l":0.5389,"a":0.475,"r":1.2},{"l":0.5563,"a":0.475,"r":1.13},{"l":0.5737,"a":0.475,"r":1.05},{"l":0.5911,"a":0.475,"r":1.2},{"l":0.6085,"a":0.475,"r":1.04},{"l":0.6259,"a":0.475,"r":1.14},{"l":0.6433,"a":0.475,"r":1.19},{"l":0.6606,"a":0.475,"r":0.93},{"l":0.678,"a":0.475,"r":1.26},{"l":0.6954,"a":0.475,"r":1.09},
{"l":0,"a":0.45,"r":1.33},{"l":0.0174,"a":0.45,"r":1.25},{"l":0.0348,"a":0.45,"r":1.31},{"l":0.0522,"a":0.45,"r":1.32},{"l":0.0695,"a":0.45,"r":1.3},{"l":0.0869,"a":0.45,"r":1.38},{"l":0.1043,"a":0.45,"r":1.1},{"l":0.1217,"a":0.45,"r":1.49},{"l":0.1391,"a":0.45,"r":1.34},{"l":0.1565,"a":0.45,"r":1.18},{"l":0.1739,"a":0.45,"r":1.1},{"l":0.1912,"a":0.45,"r":1.09},{"l":0.2086,"a":0.45,"r":1.25},{"l":0.226,"a":0.45,"r":1.07},{"l":0.2434,"a":0.45,"r":1.26},{"l":0.2608,"a":0.45,"r":1.13},{"l":0.2782,"a":0.45,"r":1.27},{"l":0.2955,"a":0.45,"r":1.47},{"l":0.3129,"a":0.45,"r":1.18},{"l":0.3303,"a":0.45,"r":1.52},{"l":0.3477,"a":0.45,"r":1.37},{"l":0.3651,"a":0.45,"r":1.24},{"l":0.3825,"a":0.45,"r":1.27},{"l":0.3999,"a":0.45,"r":1.34},{"l":0.4172,"a":0.45,"r":1.09},{"l":0.4346,"a":0.45,"r":1.29},{"l":0.452,"a":0.45,"r":1.13},{"l":0.4694,"a":0.45,"r":1.08},{"l":0.4868,"a":0.45,"r":1.05},{"l":0.5042,"a":0.45,"r":1.12},{"l":0.5216,"a":0.45,"r":1.21},{"l":0.5389,"a":0.45,"r":1.1},{"l":0.5563,"a":0.45,"r":1.3},{"l":0.5737,"a":0.45,"r":1.04},{"l":0.5911,"a":0.45,"r":1.18},{"l":0.6085,"a":0.45,"r":1.12},{"l":0.6259,"a":0.45,"r":1.07},{"l":0.6433,"a":0.45,"r":1.04},{"l":0.6606,"a":0.45,"r":1.11},{"l":0.678,"a":0.45,"r":1.08},{"l":0.6954,"a":0.45,"r":1.2},
{"l":0,"a":0.425,"r":1.05},{"l":0.0174,"a":0.425,"r":1.05},{"l":0.0348,"a":0.425,"r":1.26},{"l":0.0522,"a":0.425,"r":1.22},{"l":0.0695,"a":0.425,"r":1.55},{"l":0.0869,"a":0.425,"r":1.27},{"l":0.1043,"a":0.425,"r":1.35},{"l":0.1217,"a":0.425,"r":1.13},{"l":0.1391,"a":0.425,"r":1.26},{"l":0.1565,"a":0.425,"r":1.25},{"l":0.1739,"a":0.425,"r":1.19},{"l":0.1912,"a":0.425,"r":1.11},{"l":0.2086,"a":0.425,"r":1.39},{"l":0.226,"a":0.425,"r":1.08},{"l":0.2434,"a":0.425,"r":1.08},{"l":0.2608,"a":0.425,"r":1.1},{"l":0.2782,"a":0.425,"r":1.16},{"l":0.2955,"a":0.425,"r":1.1},{"l":0.3129,"a":0.425,"r":1.08},{"l":0.3303,"a":0.425,"r":1.14},{"l":0.3477,"a":0.425,"r":1.27},{"l":0.3651,"a":0.425,"r":1.05},{"l":0.3825,"a":0.425,"r":1.36},{"l":0.3999,"a":0.425,"r":1.05},{"l":0.4172,"a":0.425,"r":1.1},{"l":0.4346,"a":0.425,"r":1.19},{"l":0.452,"a":0.425,"r":1.36},{"l":0.4694,"a":0.425,"r":1.14},{"l":0.4868,"a":0.425,"r":1.3},{"l":0.5042,"a":0.425,"r":1.15},{"l":0.5216,"a":0.425,"r":0.98},{"l":0.5389,"a":0.425,"r":1.12},{"l":0.5563,"a":0.425,"r":1.0},{"l":0.5737,"a":0.425,"r":1.29},{"l":0.5911,"a":0.425,"r":1.19},{"l":0.6085,"a":0.425,"r":1.28},{"l":0.6259,"a":0.425,"r":1.09},{"l":0.6433,"a":0.425,"r":1.07},{"l":0.6606,"a":0.425,"r":1.15},{"l":0.678,"a":0.425,"r":0.93},{"l":0.6954,"a":0.425,"r":1.02},
{"l":0,"a":0.4,"r":1.1},{"l":0.0174,"a":0.4,"r":1.12},{"l":0.0348,"a":0.4,"r":1.25},{"l":0.0522,"a":0.4,"r":1.3},{"l":0.0695,"a":0.4,"r":1.29},{"l":0.0869,"a":0.4,"r":1.15},{"l":0.1043,"a":0.4,"r":1.23},{"l":0.1217,"a":0.4,"r":1.32},{"l":0.1391,"a":0.4,"r":1.13},{"l":0.1565,"a":0.4,"r":1.18},{"l":0.1739,"a":0.4,"r":1.13},{"l":0.1912,"a":0.4,"r":1.13},{"l":0.2086,"a":0.4,"r":1.12},{"l":0.226,"a":0.4,"r":1.19},{"l":0.2434,"a":0.4,"r":1.14},{"l":0.2608,"a":0.4,"r":1.17},{"l":0.2782,"a":0.4,"r":1.39},{"l":0.2955,"a":0.4,"r":1.29},{"l":0.3129,"a":0.4,"r":1.33},{"l":0.3303,"a":0.4,"r":1.13},{"l":0.3477,"a":0.4,"r":1.14},{"l":0.3651,"a":0.4,"r":1.11},{"l":0.3825,"a":0.4,"r":1.17},{"l":0.3999,"a":0.4,"r":1.2},{"l":0.4172,"a":0.4,"r":1.28},{"l":0.4346,"a":0.4,"r":1.12},{"l":0.452,"a":0.4,"r":1.19},{"l":0.4694,"a":0.4,"r":1.14},{"l":0.4868,"a":0.4,"r":1.1},{"l":0.5042,"a":0.4,"r":1.29},{"l":0.5216,"a":0.4,"r":1.17},{"l":0.5389,"a":0.4,"r":1.2},{"l":0.5563,"a":0.4,"r":1.26},{"l":0.5737,"a":0.4,"r":1.34},{"l":0.5911,"a":0.4,"r":1.28},{"l":0.6085,"a":0.4,"r":1.07},{"l":0.6259,"a":0.4,"r":1.25},{"l":0.6433,"a":0.4,"r":1.0},{"l":0.6606,"a":0.4,"r":1.15},{"l":0.678,"a":0.4,"r":1.07},{"l":0.6954,"a":0.4,"r":1.28},
{"l":0,"a":0.375,"r":1.07},{"l":0.0174,"a":0.375,"r":1.11},{"l":0.0348,"a":0.375,"r":1.36},{"l":0.0522,"a":0.375,"r":1.35},{"l":0.0695,"a":0.375,"r":1.26},{"l":0.0869,"a":0.375,"r":1.16},{"l":0.1043,"a":0.375,"r":1.14},{"l":0.1217,"a":0.375,"r":1.14},{"l":0.1391,"a":0.375,"r":1.43},{"l":0.1565,"a":0.375,"r":1.1},{"l":0.1739,"a":0.375,"r":1.25},{"l":0.1912,"a":0.375,"r":1.36},{"l":0.2086,"a":0.375,"r":1.27},{"l":0.226,"a":0.375,"r":1.1},{"l":0.2434,"a":0.375,"r":1.29},{"l":0.2608,"a":0.375,"r":1.24},{"l":0.2782,"a":0.375,"r":1.31},{"l":0.2955,"a":0.375,"r":1.15},{"l":0.3129,"a":0.375,"r":1.34},{"l":0.3303,"a":0.375,"r":1.41},{"l":0.3477,"a":0.375,"r":1.1},{"l":0.3651,"a":0.375,"r":1.26},{"l":0.3825,"a":0.375,"r":1.16},{"l":0.3999,"a":0.375,"r":1.3},{"l":0.4172,"a":0.375,"r":1.12},{"l":0.4346,"a":0.375,"r":1.34},{"l":0.452,"a":0.375,"r":1.27},{"l":0.4694,"a":0.375,"r":1.32},{"l":0.4868,"a":0.375,"r":1.14},{"l":0.5042,"a":0.375,"r":1.2},{"l":0.5216,"a":0.375,"r":1.2},{"l":0.5389,"a":0.375,"r":1.37},{"l":0.5563,"a":0.375,"r":1.14},{"l":0.5737,"a":0.375,"r":1.12},{"l":0.5911,"a":0.375,"r":1.2},{"l":0.6085,"a":0.375,"r":1.2},{"l":0.6259,"a":0.375,"r":1.1},{"l":0.6433,"a":0.375,"r":1.14},{"l":0.6606,"a":0.375,"r":1.32},{"l":0.678,"a":0.375,"r":0.92},{"l":0.6954,"a":0.375,"r":1.1},
{"l":0,"a":0.35,"r":1.24},{"l":0.0174,"a":0.35,"r":1.35},{"l":0.0348,"a":0.35,"r":1.39},{"l":0.0522,"a":0.35,"r":1.27},{"l":0.0695,"a":0.35,"r":1.1},{"l":0.0869,"a":0.35,"r":1.3},{"l":0.1043,"a":0.35,"r":1.26},{"l":0.1217,"a":0.35,"r":1.13},{"l":0.1391,"a":0.35,"r":1.28},{"l":0.1565,"a":0.35,"r":1.24},{"l":0.1739,"a":0.35,"r":1.26},{"l":0.1912,"a":0.35,"r":1.14},{"l":0.2086,"a":0.35,"r":1.39},{"l":0.226,"a":0.35,"r":1.1},{"l":0.2434,"a":0.35,"r":1.09},{"l":0.2608,"a":0.35,"r":1.38},{"l":0.2782,"a":0.35,"r":1.24},{"l":0.2955,"a":0.35,"r":1.44},{"l":0.3129,"a":0.35,"r":1.27},{"l":0.3303,"a":0.35,"r":1.2},{"l":0.3477,"a":0.35,"r":1.3},{"l":0.3651,"a":0.35,"r":1.3},{"l":0.3825,"a":0.35,"r":1.42},{"l":0.3999,"a":0.35,"r":1.25},{"l":0.4172,"a":0.35,"r":1.25},{"l":0.4346,"a":0.35,"r":1.34},{"l":0.452,"a":0.35,"r":1.2},{"l":0.4694,"a":0.35,"r":1.14},{"l":0.4868,"a":0.35,"r":1.11},{"l":0.5042,"a":0.35,"r":1.18},{"l":0.5216,"a":0.35,"r":1.14},{"l":0.5389,"a":0.35,"r":1.12},{"l":0.5563,"a":0.35,"r":1.05},{"l":0.5737,"a":0.35,"r":1.2},{"l":0.5911,"a":0.35,"r":1.22},{"l":0.6085,"a":0.35,"r":1.24},{"l":0.6259,"a":0.35,"r":1.26},{"l":0.6433,"a":0.35,"r":1.15},{"l":0.6606,"a":0.35,"r":1.14},{"l":0.678,"a":0.35,"r":1.05},{"l":0.6954,"a":0.35,"r":1.15},
{"l":0,"a":0.325,"r":1.13},{"l":0.0174,"a":0.325,"r":1.2},{"l":0.0348,"a":0.325,"r":1.18},{"l":0.0522,"a":0.325,"r":1.43},{"l":0.0695,"a":0.325,"r":1.31},{"l":0.0869,"a":0.325,"r":1.38},{"l":0.1043,"a":0.325,"r":1.17},{"l":0.1217,"a":0.325,"r":1.14},{"l":0.1391,"a":0.325,"r":1.3},{"l":0.1565,"a":0.325,"r":1.24},{"l":0.1739,"a":0.325,"r":1.07},{"l":0.1912,"a":0.325,"r":1.19},{"l":0.2086,"a":0.325,"r":1.09},{"l":0.226,"a":0.325,"r":1.27},{"l":0.2434,"a":0.325,"r":1.47},{"l":0.2608,"a":0.325,"r":1.25},{"l":0.2782,"a":0.325,"r":1.29},{"l":0.2955,"a":0.325,"r":1.08},{"l":0.3129,"a":0.325,"r":1.34},{"l":0.3303,"a":0.325,"r":1.17},{"l":0.3477,"a":0.325,"r":1.35},{"l":0.3651,"a":0.325,"r":1.17},{"l":0.3825,"a":0.325,"r":1.1},{"l":0.3999,"a":0.325,"r":1.2},{"l":0.4172,"a":0.325,"r":1.26},{"l":0.4346,"a":0.325,"r":1.1},{"l":0.452,"a":0.325,"r":1.33},{"l":0.4694,"a":0.325,"r":1.29},{"l":0.4868,"a":0.325,"r":1.3},{"l":0.5042,"a":0.325,"r":1.19},{"l":0.5216,"a":0.325,"r":1.33},{"l":0.5389,"a":0.325,"r":1.29},{"l":0.5563,"a":0.325,"r":1.24},{"l":0.5737,"a":0.325,"r":1.18},{"l":0.5911,"a":0.325,"r":1.14},{"l":0.6085,"a":0.325,"r":1.3},{"l":0.6259,"a":0.325,"r":1.2},{"l":0.6433,"a":0.325,"r":1.12},{"l":0.6606,"a":0.325,"r":1.13},{"l":0.678,"a":0.325,"r":1.05},{"l":0.6954,"a":0.325,"r":1.29},
{"l":0,"a":0.3,"r":1.22},{"l":0.0174,"a":0.3,"r":1.2},{"l":0.0348,"a":0.3,"r":1.23},{"l":0.0522,"a":0.3,"r":1.49},{"l":0.0695,"a":0.3,"r":1.2},{"l":0.0869,"a":0.3,"r":1.35},{"l":0.1043,"a":0.3,"r":1.08},{"l":0.1217,"a":0.3,"r":1.26},{"l":0.1391,"a":0.3,"r":1.1},{"l":0.1565,"a":0.3,"r":1.09},{"l":0.1739,"a":0.3,"r":1.29},{"l":0.1912,"a":0.3,"r":1.15},{"l":0.2086,"a":0.3,"r":1.29},{"l":0.226,"a":0.3,"r":1.1},{"l":0.2434,"a":0.3,"r":1.3},{"l":0.2608,"a":0.3,"r":1.16},{"l":0.2782,"a":0.3,"r":1.1},{"l":0.2955,"a":0.3,"r":1.3},{"l":0.3129,"a":0.3,"r":1.15},{"l":0.3303,"a":0.3,"r":1.08},{"l":0.3477,"a":0.3,"r":1.35},{"l":0.3651,"a":0.3,"r":1.15},{"l":0.3825,"a":0.3,"r":1.31},{"l":0.3999,"a":0.3,"r":1.44},{"l":0.4172,"a":0.3,"r":1.33},{"l":0.4346,"a":0.3,"r":1.41},{"l":0.452,"a":0.3,"r":1.15},{"l":0.4694,"a":0.3,"r":1.14},{"l":0.4868,"a":0.3,"r":1.22},{"l":0.5042,"a":0.3,"r":1.23},{"l":0.5216,"a":0.3,"r":1.35},{"l":0.5389,"a":0.3,"r":1.36},{"l":0.5563,"a":0.3,"r":1.21},{"l":0.5737,"a":0.3,"r":1.07},{"l":0.5911,"a":0.3,"r":1.06},{"l":0.6085,"a":0.3,"r":1.18},{"l":0.6259,"a":0.3,"r":1.14},{"l":0.6433,"a":0.3,"r":1.0},{"l":0.6606,"a":0.3,"r":1.12},{"l":0.678,"a":0.3,"r":1.14},{"l":0.6954,"a":0.3,"r":1.24},
{"l":0,"a":0.275,"r":1.06},{"l":0.0174,"a":0.275,"r":1.14},{"l":0.0348,"a":0.275,"r":1.14},{"l":0.0522,"a":0.275,"r":1.35},{"l":0.0695,"a":0.275,"r":1.12},{"l":0.0869,"a":0.275,"r":1.36},{"l":0.1043,"a":0.275,"r":1.24},{"l":0.1217,"a":0.275,"r":1.42},{"l":0.1391,"a":0.275,"r":1.26},{"l":0.1565,"a":0.275,"r":1.51},{"l":0.1739,"a":0.275,"r":1.12},{"l":0.1912,"a":0.275,"r":1.16},{"l":0.2086,"a":0.275,"r":1.13},{"l":0.226,"a":0.275,"r":1.12},{"l":0.2434,"a":0.275,"r":1.05},{"l":0.2608,"a":0.275,"r":1.23},{"l":0.2782,"a":0.275,"r":1.23},{"l":0.2955,"a":0.275,"r":1.12},{"l":0.3129,"a":0.275,"r":1.05},{"l":0.3303,"a":0.275,"r":1.25},{"l":0.3477,"a":0.275,"r":1.1},{"l":0.3651,"a":0.275,"r":1.37},{"l":0.3825,"a":0.275,"r":1.26},{"l":0.3999,"a":0.275,"r":1.25},{"l":0.4172,"a":0.275,"r":1.13},{"l":0.4346,"a":0.275,"r":1.75},{"l":0.452,"a":0.275,"r":1.36},{"l":0.4694,"a":0.275,"r":1.13},{"l":0.4868,"a":0.275,"r":1.37},{"l":0.5042,"a":0.275,"r":1.32},{"l":0.5216,"a":0.275,"r":1.24},{"l":0.5389,"a":0.275,"r":1.14},{"l":0.5563,"a":0.275,"r":1.34},{"l":0.5737,"a":0.275,"r":1.27},{"l":0.5911,"a":0.275,"r":1.13},{"l":0.6085,"a":0.275,"r":1.33},{"l":0.6259,"a":0.275,"r":1.05},{"l":0.6433,"a":0.275,"r":1.23},{"l":0.6606,"a":0.275,"r":1.17},{"l":0.678,"a":0.275,"r":1.17},{"l":0.6954,"a":0.275,"r":1.1},
{"l":0,"a":0.25,"r":1.08},{"l":0.0174,"a":0.25,"r":1.18},{"l":0.0348,"a":0.25,"r":1.48},{"l":0.0522,"a":0.25,"r":1.45},{"l":0.0695,"a":0.25,"r":1.39},{"l":0.0869,"a":0.25,"r":1.44},{"l":0.1043,"a":0.25,"r":1.35},{"l":0.1217,"a":0.25,"r":1.3},{"l":0.1391,"a":0.25,"r":1.38},{"l":0.1565,"a":0.25,"r":1.47},{"l":0.1739,"a":0.25,"r":1.35},{"l":0.1912,"a":0.25,"r":1.13},{"l":0.2086,"a":0.25,"r":1.48},{"l":0.226,"a":0.25,"r":1.09},{"l":0.2434,"a":0.25,"r":1.31},{"l":0.2608,"a":0.25,"r":1.62},{"l":0.2782,"a":0.25,"r":1.62},{"l":0.2955,"a":0.25,"r":1.25},{"l":0.3129,"a":0.25,"r":1.18},{"l":0.3303,"a":0.25,"r":1.2},{"l":0.3477,"a":0.25,"r":1.22},{"l":0.3651,"a":0.25,"r":1.17},{"l":0.3825,"a":0.25,"r":1.27},{"l":0.3999,"a":0.25,"r":1.27},{"l":0.4172,"a":0.25,"r":1.19},{"l":0.4346,"a":0.25,"r":1.12},{"l":0.452,"a":0.25,"r":1.24},{"l":0.4694,"a":0.25,"r":1.3},{"l":0.4868,"a":0.25,"r":1.41},{"l":0.5042,"a":0.25,"r":1.15},{"l":0.5216,"a":0.25,"r":1.07},{"l":0.5389,"a":0.25,"r":1.33},{"l":0.5563,"a":0.25,"r":1.22},{"l":0.5737,"a":0.25,"r":1.3},{"l":0.5911,"a":0.25,"r":1.33},{"l":0.6085,"a":0.25,"r":1.1},{"l":0.6259,"a":0.25,"r":1.15},{"l":0.6433,"a":0.25,"r":1.08},{"l":0.6606,"a":0.25,"r":1.25},{"l":0.678,"a":0.25,"r":1.19},{"l":0.6954,"a":0.25,"r":1.28},
{"l":0,"a":0.225,"r":1.47},{"l":0.0174,"a":0.225,"r":1.12},{"l":0.0348,"a":0.225,"r":1.2},{"l":0.0522,"a":0.225,"r":1.27},{"l":0.0695,"a":0.225,"r":1.33},{"l":0.0869,"a":0.225,"r":1.4},{"l":0.1043,"a":0.225,"r":1.35},{"l":0.1217,"a":0.225,"r":1.27},{"l":0.1391,"a":0.225,"r":1.38},{"l":0.1565,"a":0.225,"r":1.13},{"l":0.1739,"a":0.225,"r":1.35},{"l":0.1912,"a":0.225,"r":1.3},{"l":0.2086,"a":0.225,"r":1.26},{"l":0.226,"a":0.225,"r":1.24},{"l":0.2434,"a":0.225,"r":1.13},{"l":0.2608,"a":0.225,"r":1.31},{"l":0.2782,"a":0.225,"r":1.16},{"l":0.2955,"a":0.225,"r":1.12},{"l":0.3129,"a":0.225,"r":1.39},{"l":0.3303,"a":0.225,"r":1.2},{"l":0.3477,"a":0.225,"r":1.13},{"l":0.3651,"a":0.225,"r":1.08},{"l":0.3825,"a":0.225,"r":1.26},{"l":0.3999,"a":0.225,"r":1.38},{"l":0.4172,"a":0.225,"r":1.17},{"l":0.4346,"a":0.225,"r":1.11},{"l":0.452,"a":0.225,"r":1.27},{"l":0.4694,"a":0.225,"r":1.12},{"l":0.4868,"a":0.225,"r":1.33},{"l":0.5042,"a":0.225,"r":1.05},{"l":0.5216,"a":0.225,"r":1.33},{"l":0.5389,"a":0.225,"r":1.2},{"l":0.5563,"a":0.225,"r":1.14},{"l":0.5737,"a":0.225,"r":1.2},{"l":0.5911,"a":0.225,"r":1.08},{"l":0.6085,"a":0.225,"r":1.5},{"l":0.6259,"a":0.225,"r":1.28},{"l":0.6433,"a":0.225,"r":1.47},{"l":0.6606,"a":0.225,"r":1.26},{"l":0.678,"a":0.225,"r":1.27},{"l":0.6954,"a":0.225,"r":1.18},
{"l":0,"a":0.2,"r":1.15},{"l":0.0174,"a":0.2,"r":1.39},{"l":0.0348,"a":0.2,"r":1.2},{"l":0.0522,"a":0.2,"r":1.25},{"l":0.0695,"a":0.2,"r":1.42},{"l":0.0869,"a":0.2,"r":1.42},{"l":0.1043,"a":0.2,"r":1.22},{"l":0.1217,"a":0.2,"r":1.32},{"l":0.1391,"a":0.2,"r":1.39},{"l":0.1565,"a":0.2,"r":1.4},{"l":0.1739,"a":0.2,"r":1.32},{"l":0.1912,"a":0.2,"r":1.24},{"l":0.2086,"a":0.2,"r":1.51},{"l":0.226,"a":0.2,"r":1.43},{"l":0.2434,"a":0.2,"r":1.32},{"l":0.2608,"a":0.2,"r":1.42},{"l":0.2782,"a":0.2,"r":1.26},{"l":0.2955,"a":0.2,"r":1.35},{"l":0.3129,"a":0.2,"r":1.26},{"l":0.3303,"a":0.2,"r":1.35},{"l":0.3477,"a":0.2,"r":1.27},{"l":0.3651,"a":0.2,"r":1.26},{"l":0.3825,"a":0.2,"r":1.36},{"l":0.3999,"a":0.2,"r":1.48},{"l":0.4172,"a":0.2,"r":1.38},{"l":0.4346,"a":0.2,"r":1.38},{"l":0.452,"a":0.2,"r":1.48},{"l":0.4694,"a":0.2,"r":1.47},{"l":0.4868,"a":0.2,"r":1.43},{"l":0.5042,"a":0.2,"r":1.36},{"l":0.5216,"a":0.2,"r":1.36},{"l":0.5389,"a":0.2,"r":1.11},{"l":0.5563,"a":0.2,"r":1.4},{"l":0.5737,"a":0.2,"r":1.55},{"l":0.5911,"a":0.2,"r":1.12},{"l":0.6085,"a":0.2,"r":1.4},{"l":0.6259,"a":0.2,"r":1.27},{"l":0.6433,"a":0.2,"r":1.27},{"l":0.6606,"a":0.2,"r":1.41},{"l":0.678,"a":0.2,"r":1.17},{"l":0.6954,"a":0.2,"r":1.1},
{"l":0,"a":0.175,"r":1.11},{"l":0.0174,"a":0.175,"r":1.05},{"l":0.0348,"a":0.175,"r":1.34},{"l":0.0522,"a":0.175,"r":1.27},{"l":0.0695,"a":0.175,"r":1.29},{"l":0.0869,"a":0.175,"r":1.44},{"l":0.1043,"a":0.175,"r":1.55},{"l":0.1217,"a":0.175,"r":1.26},{"l":0.1391,"a":0.175,"r":1.37},{"l":0.1565,"a":0.175,"r":1.37},{"l":0.1739,"a":0.175,"r":1.31},{"l":0.1912,"a":0.175,"r":1.52},{"l":0.2086,"a":0.175,"r":1.41},{"l":0.226,"a":0.175,"r":1.26},{"l":0.2434,"a":0.175,"r":1.2},{"l":0.2608,"a":0.175,"r":1.31},{"l":0.2782,"a":0.175,"r":1.52},{"l":0.2955,"a":0.175,"r":1.38},{"l":0.3129,"a":0.175,"r":1.41},{"l":0.3303,"a":0.175,"r":1.41},{"l":0.3477,"a":0.175,"r":1.4},{"l":0.3651,"a":0.175,"r":1.2},{"l":0.3825,"a":0.175,"r":1.33},{"l":0.3999,"a":0.175,"r":1.42},{"l":0.4172,"a":0.175,"r":1.29},{"l":0.4346,"a":0.175,"r":1.47},{"l":0.452,"a":0.175,"r":1.32},{"l":0.4694,"a":0.175,"r":1.52},{"l":0.4868,"a":0.175,"r":1.44},{"l":0.5042,"a":0.175,"r":1.53},{"l":0.5216,"a":0.175,"r":1.13},{"l":0.5389,"a":0.175,"r":1.05},{"l":0.5563,"a":0.175,"r":1.28},{"l":0.5737,"a":0.175,"r":1.27},{"l":0.5911,"a":0.175,"r":1.27},{"l":0.6085,"a":0.175,"r":1.23},{"l":0.6259,"a":0.175,"r":1.34},{"l":0.6433,"a":0.175,"r":1.19},{"l":0.6606,"a":0.175,"r":1.25},{"l":0.678,"a":0.175,"r":1.08},{"l":0.6954,"a":0.175,"r":1.12},
{"l":0,"a":0.15,"r":1.47},{"l":0.0174,"a":0.15,"r":1.12},{"l":0.0348,"a":0.15,"r":1.15},{"l":0.0522,"a":0.15,"r":1.27},{"l":0.0695,"a":0.15,"r":1.32},{"l":0.0869,"a":0.15,"r":1.37},{"l":0.1043,"a":0.15,"r":1.56},{"l":0.1217,"a":0.15,"r":1.29},{"l":0.1391,"a":0.15,"r":1.35},{"l":0.1565,"a":0.15,"r":1.47},{"l":0.1739,"a":0.15,"r":1.67},{"l":0.1912,"a":0.15,"r":1.3},{"l":0.2086,"a":0.15,"r":1.61},{"l":0.226,"a":0.15,"r":1.15},{"l":0.2434,"a":0.15,"r":1.22},{"l":0.2608,"a":0.15,"r":1.31},{"l":0.2782,"a":0.15,"r":1.58},{"l":0.2955,"a":0.15,"r":1.2},{"l":0.3129,"a":0.15,"r":1.41},{"l":0.3303,"a":0.15,"r":1.47},{"l":0.3477,"a":0.15,"r":1.22},{"l":0.3651,"a":0.15,"r":1.49},{"l":0.3825,"a":0.15,"r":1.09},{"l":0.3999,"a":0.15,"r":1.15},{"l":0.4172,"a":0.15,"r":1.66},{"l":0.4346,"a":0.15,"r":1.21},{"l":0.452,"a":0.15,"r":1.38},{"l":0.4694,"a":0.15,"r":1.5},{"l":0.4868,"a":0.15,"r":1.22},{"l":0.5042,"a":0.15,"r":1.15},{"l":0.5216,"a":0.15,"r":1.05},{"l":0.5389,"a":0.15,"r":1.1},{"l":0.5563,"a":0.15,"r":1.27},{"l":0.5737,"a":0.15,"r":1.43},{"l":0.5911,"a":0.15,"r":1.47},{"l":0.6085,"a":0.15,"r":1.47},{"l":0.6259,"a":0.15,"r":1.35},{"l":0.6433,"a":0.15,"r":1.38},{"l":0.6606,"a":0.15,"r":1.27},{"l":0.678,"a":0.15,"r":1.3},{"l":0.6954,"a":0.15,"r":1.32},
{"l":0,"a":0.125,"r":1.17},{"l":0.0174,"a":0.125,"r":1.09},{"l":0.0348,"a":0.125,"r":1.55},{"l":0.0522,"a":0.125,"r":1.5},{"l":0.0695,"a":0.125,"r":1.3},{"l":0.0869,"a":0.125,"r":1.44},{"l":0.1043,"a":0.125,"r":1.37},{"l":0.1217,"a":0.125,"r":1.31},{"l":0.1391,"a":0.125,"r":1.47},{"l":0.1565,"a":0.125,"r":1.41},{"l":0.1739,"a":0.125,"r":1.2},{"l":0.1912,"a":0.125,"r":1.43},{"l":0.2086,"a":0.125,"r":1.26},{"l":0.226,"a":0.125,"r":1.35},{"l":0.2434,"a":0.125,"r":1.33},{"l":0.2608,"a":0.125,"r":1.55},{"l":0.2782,"a":0.125,"r":1.45},{"l":0.2955,"a":0.125,"r":1.36},{"l":0.3129,"a":0.125,"r":1.27},{"l":0.3303,"a":0.125,"r":1.31},{"l":0.3477,"a":0.125,"r":1.36},{"l":0.3651,"a":0.125,"r":1.2},{"l":0.3825,"a":0.125,"r":1.25},{"l":0.3999,"a":0.125,"r":1.3},{"l":0.4172,"a":0.125,"r":1.28},{"l":0.4346,"a":0.125,"r":1.31},{"l":0.452,"a":0.125,"r":1.42},{"l":0.4694,"a":0.125,"r":1.59},{"l":0.4868,"a":0.125,"r":1.2},{"l":0.5042,"a":0.125,"r":1.1},{"l":0.5216,"a":0.125,"r":1.55},{"l":0.5389,"a":0.125,"r":1.43},{"l":0.5563,"a":0.125,"r":1.47},{"l":0.5737,"a":0.125,"r":1.56},{"l":0.5911,"a":0.125,"r":1.14},{"l":0.6085,"a":0.125,"r":1.08},{"l":0.6259,"a":0.125,"r":1.3},{"l":0.6433,"a":0.125,"r":1.19},{"l":0.6606,"a":0.125,"r":1.39},{"l":0.678,"a":0.125,"r":1.35},{"l":0.6954,"a":0.125,"r":1.33},
{"l":0,"a":0.1,"r":1.09},{"l":0.0174,"a":0.1,"r":1.05},{"l":0.0348,"a":0.1,"r":1.12},{"l":0.0522,"a":0.1,"r":1.38},{"l":0.0695,"a":0.1,"r":1.23},{"l":0.0869,"a":0.1,"r":1.33},{"l":0.1043,"a":0.1,"r":1.26},{"l":0.1217,"a":0.1,"r":1.52},{"l":0.1391,"a":0.1,"r":1.33},{"l":0.1565,"a":0.1,"r":1.62},{"l":0.1739,"a":0.1,"r":1.33},{"l":0.1912,"a":0.1,"r":1.3},{"l":0.2086,"a":0.1,"r":1.37},{"l":0.226,"a":0.1,"r":1.37},{"l":0.2434,"a":0.1,"r":1.41},{"l":0.2608,"a":0.1,"r":1.2},{"l":0.2782,"a":0.1,"r":1.24},{"l":0.2955,"a":0.1,"r":1.33},{"l":0.3129,"a":0.1,"r":1.23},{"l":0.3303,"a":0.1,"r":1.39},{"l":0.3477,"a":0.1,"r":1.41},{"l":0.3651,"a":0.1,"r":1.31},{"l":0.3825,"a":0.1,"r":1.24},{"l":0.3999,"a":0.1,"r":1.22},{"l":0.4172,"a":0.1,"r":1.2},{"l":0.4346,"a":0.1,"r":1.32},{"l":0.452,"a":0.1,"r":1.35},{"l":0.4694,"a":0.1,"r":1.4},{"l":0.4868,"a":0.1,"r":1.22},{"l":0.5042,"a":0.1,"r":1.43},{"l":0.5216,"a":0.1,"r":1.45},{"l":0.5389,"a":0.1,"r":1.24},{"l":0.5563,"a":0.1,"r":1.4},{"l":0.5737,"a":0.1,"r":1.52},{"l":0.5911,"a":0.1,"r":1.31},{"l":0.6085,"a":0.1,"r":1.33},{"l":0.6259,"a":0.1,"r":1.18},{"l":0.6433,"a":0.1,"r":1.37},{"l":0.6606,"a":0.1,"r":1.14},{"l":0.678,"a":0.1,"r":1.29},{"l":0.6954,"a":0.1,"r":1.17},
{"l":0,"a":0.075,"r":1.12},{"l":0.0174,"a":0.075,"r":1.13},{"l":0.0348,"a":0.075,"r":1.2},{"l":0.0522,"a":0.075,"r":1.22},{"l":0.0695,"a":0.075,"r":1.12},{"l":0.0869,"a":0.075,"r":1.19},{"l":0.1043,"a":0.075,"r":1.5},{"l":0.1217,"a":0.075,"r":1.49},{"l":0.1391,"a":0.075,"r":1.5},{"l":0.1565,"a":0.075,"r":1.38},{"l":0.1739,"a":0.075,"r":1.12},{"l":0.1912,"a":0.075,"r":1.37},{"l":0.2086,"a":0.075,"r":1.26},{"l":0.226,"a":0.075,"r":1.44},{"l":0.2434,"a":0.075,"r":1.27},{"l":0.2608,"a":0.075,"r":1.42},{"l":0.2782,"a":0.075,"r":1.33},{"l":0.2955,"a":0.075,"r":1.26},{"l":0.3129,"a":0.075,"r":1.46},{"l":0.3303,"a":0.075,"r":1.2},{"l":0.3477,"a":0.075,"r":1.44},{"l":0.3651,"a":0.075,"r":1.58},{"l":0.3825,"a":0.075,"r":1.32},{"l":0.3999,"a":0.075,"r":1.2},{"l":0.4172,"a":0.075,"r":1.24},{"l":0.4346,"a":0.075,"r":1.4},{"l":0.452,"a":0.075,"r":1.36},{"l":0.4694,"a":0.075,"r":1.1},{"l":0.4868,"a":0.075,"r":1.46},{"l":0.5042,"a":0.075,"r":1.47},{"l":0.5216,"a":0.075,"r":1.3},{"l":0.5389,"a":0.075,"r":1.44},{"l":0.5563,"a":0.075,"r":1.28},{"l":0.5737,"a":0.075,"r":1.1},{"l":0.5911,"a":0.075,"r":1.16},{"l":0.6085,"a":0.075,"r":1.37},{"l":0.6259,"a":0.075,"r":1.27},{"l":0.6433,"a":0.075,"r":1.27},{"l":0.6606,"a":0.075,"r":1.47},{"l":0.678,"a":0.075,"r":1.1},{"l":0.6954,"a":0.075,"r":1.14},
{"l":0,"a":0.05,"r":1.09},{"l":0.0174,"a":0.05,"r":1.09},{"l":0.0348,"a":0.05,"r":1.1},{"l":0.0522,"a":0.05,"r":1.32},{"l":0.0695,"a":0.05,"r":1.47},{"l":0.0869,"a":0.05,"r":1.37},{"l":0.1043,"a":0.05,"r":1.56},{"l":0.1217,"a":0.05,"r":1.24},{"l":0.1391,"a":0.05,"r":1.75},{"l":0.1565,"a":0.05,"r":1.39},{"l":0.1739,"a":0.05,"r":1.41},{"l":0.1912,"a":0.05,"r":1.55},{"l":0.2086,"a":0.05,"r":1.65},{"l":0.226,"a":0.05,"r":1.32},{"l":0.2434,"a":0.05,"r":1.36},{"l":0.2608,"a":0.05,"r":1.24},{"l":0.2782,"a":0.05,"r":1.44},{"l":0.2955,"a":0.05,"r":1.3},{"l":0.3129,"a":0.05,"r":1.23},{"l":0.3303,"a":0.05,"r":1.46},{"l":0.3477,"a":0.05,"r":1.3},{"l":0.3651,"a":0.05,"r":1.27},{"l":0.3825,"a":0.05,"r":1.38},{"l":0.3999,"a":0.05,"r":1.26},{"l":0.4172,"a":0.05,"r":1.33},{"l":0.4346,"a":0.05,"r":1.47},{"l":0.452,"a":0.05,"r":1.21},{"l":0.4694,"a":0.05,"r":1.28},{"l":0.4868,"a":0.05,"r":1.47},{"l":0.5042,"a":0.05,"r":1.34},{"l":0.5216,"a":0.05,"r":1.26},{"l":0.5389,"a":0.05,"r":1.37},{"l":0.5563,"a":0.05,"r":1.2},{"l":0.5737,"a":0.05,"r":1.5},{"l":0.5911,"a":0.05,"r":1.51},{"l":0.6085,"a":0.05,"r":1.16},{"l":0.6259,"a":0.05,"r":1.55},{"l":0.6433,"a":0.05,"r":1.28},{"l":0.6606,"a":0.05,"r":1.41},{"l":0.678,"a":0.05,"r":1.48},{"l":0.6954,"a":0.05,"r":1.2},
{"l":0,"a":0.025,"r":1.18},{"l":0.0174,"a":0.025,"r":1.21},{"l":0.0348,"a":0.025,"r":1.28},{"l":0.0522,"a":0.025,"r":1.11},{"l":0.0695,"a":0.025,"r":1.16},{"l":0.0869,"a":0.025,"r":1.25},{"l":0.1043,"a":0.025,"r":1.11},{"l":0.1217,"a":0.025,"r":1.08},{"l":0.1391,"a":0.025,"r":1.14},{"l":0.1565,"a":0.025,"r":1.24},{"l":0.1739,"a":0.025,"r":1.2},{"l":0.1912,"a":0.025,"r":1.22},{"l":0.2086,"a":0.025,"r":1.07},{"l":0.226,"a":0.025,"r":0.97},{"l":0.2434,"a":0.025,"r":1.13},{"l":0.2608,"a":0.025,"r":1.05},{"l":0.2782,"a":0.025,"r":1.3},{"l":0.2955,"a":0.025,"r":1.1},{"l":0.3129,"a":0.025,"r":1.49},{"l":0.3303,"a":0.025,"r":1.56},{"l":0.3477,"a":0.025,"r":1.0},{"l":0.3651,"a":0.025,"r":1.05},{"l":0.3825,"a":0.025,"r":1.07},{"l":0.3999,"a":0.025,"r":1.29},{"l":0.4172,"a":0.025,"r":1.06},{"l":0.4346,"a":0.025,"r":1.11},{"l":0.452,"a":0.025,"r":1.44},{"l":0.4694,"a":0.025,"r":1.16},{"l":0.4868,"a":0.025,"r":1.32},{"l":0.5042,"a":0.025,"r":1.14},{"l":0.5216,"a":0.025,"r":1.3},{"l":0.5389,"a":0.025,"r":1.47},{"l":0.5563,"a":0.025,"r":1.14},{"l":0.5737,"a":0.025,"r":1.37},{"l":0.5911,"a":0.025,"r":1.4},{"l":0.6085,"a":0.025,"r":1.1},{"l":0.6259,"a":0.025,"r":1.17},{"l":0.6433,"a":0.025,"r":1.57},{"l":0.6606,"a":0.025,"r":1.16},{"l":0.678,"a":0.025,"r":1.2},{"l":0.6954,"a":0.025,"r":1.18},
{"l":0,"a":0,"r":1.15},{"l":0.0174,"a":0,"r":1.3},{"l":0.0348,"a":0,"r":1.35},{"l":0.0522,"a":0,"r":1.37},{"l":0.0695,"a":0,"r":1.1},{"l":0.0869,"a":0,"r":1.19},{"l":0.1043,"a":0,"r":1.31},{"l":0.1217,"a":0,"r":1.12},{"l":0.1391,"a":0,"r":1.13},{"l":0.1565,"a":0,"r":1.14},{"l":0.1739,"a":0,"r":1.08},{"l":0.1912,"a":0,"r":1.42},{"l":0.2086,"a":0,"r":1.17},{"l":0.226,"a":0,"r":1.11},{"l":0.2434,"a":0,"r":1.15},{"l":0.2608,"a":0,"r":1.08},{"l":0.2782,"a":0,"r":1.08},{"l":0.2955,"a":0,"r":1.25},{"l":0.3129,"a":0,"r":1.25},{"l":0.3303,"a":0,"r":1.24},{"l":0.3477,"a":0,"r":1.13},{"l":0.3651,"a":0,"r":1.04},{"l":0.3825,"a":0,"r":1.22},{"l":0.3999,"a":0,"r":1.08},{"l":0.4172,"a":0,"r":1.32},{"l":0.4346,"a":0,"r":1.16},{"l":0.452,"a":0,"r":1.08},{"l":0.4694,"a":0,"r":1.1},{"l":0.4868,"a":0,"r":1.04},{"l":0.5042,"a":0,"r":1.06},{"l":0.5216,"a":0,"r":1.12},{"l":0.5389,"a":0,"r":1.1},{"l":0.5563,"a":0,"r":1.0},{"l":0.5737,"a":0,"r":1.28},{"l":0.5911,"a":0,"r":1.33},{"l":0.6085,"a":0,"r":1.24},{"l":0.6259,"a":0,"r":1.06},{"l":0.6433,"a":0,"r":1.11},{"l":0.6606,"a":0,"r":1.05},{"l":0.678,"a":0,"r":1.34},{"l":0.6954,"a":0,"r":1.16}
]},"mark":{"type":"rect","stroke":"#ffffff","strokeWidth":0.4,"strokeOpacity":0.25},"encoding":{"x":{"field":"l","type":"ordinal","sort":"ascending","scale":{"paddingInner":0,"paddingOuter":0},"axis":{"title":"lambda","titleFont":"Liberation Sans","titleFontSize":25,"titleFontWeight":"normal","titleColor":"black","titleY":83,"labelAngle":90,"labelAlign":"center","labelBaseline":"middle","labelFont":"Liberation Sans","labelFontSize":21,"labelColor":"#4D4D4D","labelOffset":-8.5,"labelPadding":37,"labelOverlap":false,"tickColor":"#333333","tickSize":8,"tickWidth":2,"domain":false,"grid":false}},"y":{"field":"a","type":"ordinal","sort":"descending","scale":{"paddingInner":0,"paddingOuter":0},"axis":{"title":"alpha","titleFont":"Liberation Sans","titleFontSize":25,"titleFontWeight":"normal","titleColor":"black","titleX":-74,"labelFont":"Liberation Sans","labelFontSize":21,"labelColor":"#4D4D4D","labelPadding":6,"labelOverlap":false,"tickColor":"#333333","tickSize":8,"tickWidth":2,"domain":false,"grid":false}},"color":{"field":"r","type":"quantitative","scale":{"domain":[0.818,1.053,1.2875,1.522,1.757],"range":["#000000","#0000FF","#A020F0","#FFA500","#FFFF00"],"interpolate":"rgb"},"legend":{"title":"RMSPE","orient":"none","legendX":796,"legendY":219,"titleFont":"Liberation Sans","titleFontSize":26,"titleFontWeight":"normal","titleColor":"black","titlePadding":11,"gradientLength":207,"gradientThickness":42,"gradientStrokeWidth":0,"labelFont":"Liberation Sans","labelFontSize":20,"labelColor":"black","labelOffset":15,"values":[1,1.25,1.5,1.75],"format":".2f","labelOverlap":false,"tickCount":4}}}}
